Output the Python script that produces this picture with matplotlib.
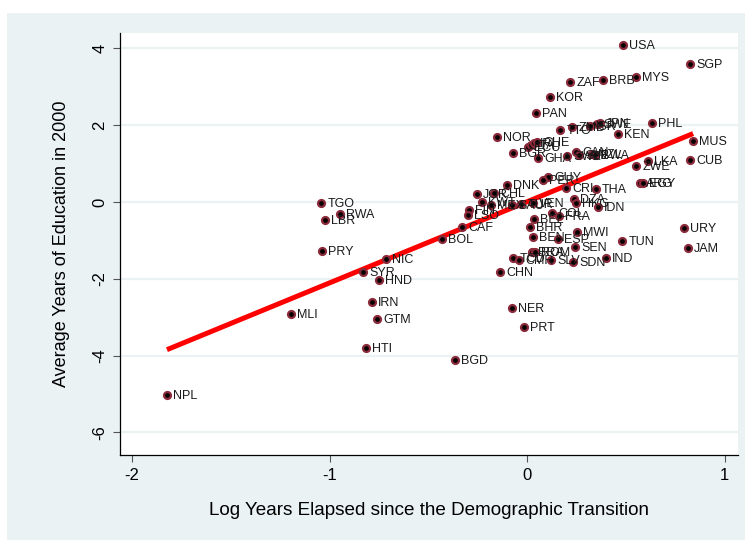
import numpy as np
import matplotlib
matplotlib.use("Agg")
import matplotlib.pyplot as plt
from matplotlib.patches import Rectangle

plt.rcParams['font.family'] = ['Liberation Sans', 'DejaVu Sans']

countries = ["USA", "SGP", "MYS", "BRB", "ZAF", "KOR", "PAN", "PHL", "MUS", "KEN",
             "TTO", "ZMB", "ISR", "SWE", "JPN", "NOR", "ECU", "ITA", "IRL", "CHE",
             "BGR", "GHA", "SWZ", "CAN", "SLE", "NZL", "BWA", "ZWE", "LKA", "CUB",
             "ARG", "EGY", "URY", "JAM", "TUN", "IND", "SDN", "SLV", "SEN", "MWI",
             "ESP", "BEN", "BHR", "BEL", "COL", "FRA", "BRA", "ROM", "TCD", "CMR",
             "CHN", "NER", "PRT", "BGD", "HTI", "GTM", "IRN", "MLI", "NPL", "HND",
             "SYR", "NIC", "BOL", "CAF", "PRY", "TGO", "RWA", "LBR", "FIN", "LSO",
             "JOR", "KWT", "CHL", "DNK", "MEX", "SAU", "TUR", "VEN", "GUY", "PER",
             "CRI", "THA", "DZA", "HKG", "IDN"]

log_years = [0.486, 0.825, 0.552, 0.385, 0.218, 0.116, 0.046, 0.633, 0.841, 0.461,
             0.167, 0.228, 0.319, 0.354, 0.370, -0.152, 0.005, 0.020, 0.035, 0.051,
             -0.071, 0.056, 0.203, 0.248, 0.263, 0.329, 0.344, 0.552, 0.613, 0.825,
             0.572, 0.587, 0.795, 0.815, 0.481, 0.400, 0.233, 0.122, 0.243, 0.253,
             0.157, 0.030, 0.015, 0.035, 0.127, 0.162, 0.025, 0.040, -0.071, -0.040,
             -0.137, -0.076, -0.015, -0.365, -0.815, -0.759, -0.785, -1.195, -1.823, -0.749,
             -0.830, -0.714, -0.430, -0.329, -1.038, -1.043, -0.947, -1.023, -0.294, -0.299,
             -0.253, -0.228, -0.167, -0.101, -0.182, -0.076, -0.030, 0.030, 0.106, 0.081,
             0.197, 0.349, 0.238, 0.248, 0.359]

education = [4.09, 3.59, 3.26, 3.18, 3.13, 2.73, 2.32, 2.06, 1.59, 1.77,
             1.88, 1.95, 1.98, 2.03, 2.06, 1.69, 1.43, 1.48, 1.54, 1.56,
             1.28, 1.15, 1.20, 1.30, 1.22, 1.25, 1.22, 0.94, 1.07, 1.09,
             0.49, 0.49, -0.68, -1.20, -1.02, -1.46, -1.56, -1.51, -1.17, -0.78,
             -0.96, -0.91, -0.65, -0.44, -0.29, -0.36, -1.30, -1.30, -1.46, -1.51,
             -1.82, -2.76, -3.26, -4.11, -3.80, -3.05, -2.60, -2.92, -5.03, -2.03,
             -1.82, -1.48, -0.96, -0.65, -1.28, -0.03, -0.31, -0.47, -0.21, -0.34,
             0.21, 0.00, 0.23, 0.44, -0.08, -0.08, -0.05, -0.03, 0.65, 0.57,
             0.36, 0.34, 0.08, -0.03, -0.13]

x_ticks = [-2, -1, 0, 1]
y_ticks = [-6, -4, -2, 0, 2, 4]

x = np.array(log_years)
y = np.array(education)

fig = plt.figure(figsize=(7.52, 5.5), dpi=100)
fig.patch.set_facecolor('white')
fig.patches.append(Rectangle((7/752, 1-540/550), (745-7)/752, (540-13)/550,
                             transform=fig.transFigure, facecolor='#EAF2F3',
                             edgecolor='none', zorder=-10))

ax = fig.add_axes([120/752, 1-455/550, (738-120)/752, (455-33)/550])
ax.set_facecolor('white')

for t in y_ticks:
    ax.axhline(t, color='#EAF2F3', lw=1.6, zorder=0)

slope, intercept = np.polyfit(x, y, 1)
xs = np.array([x.min(), x.max()])
ax.plot(xs, intercept + slope * xs, color='#FF0000', lw=3.6, zorder=3, solid_capstyle='butt')

ax.plot(x, y, 'o', markersize=5, markerfacecolor='black', markeredgecolor='#8B2A3A',
        markeredgewidth=1.6, zorder=4, linestyle='none')
for c, xi, yi in zip(countries, x, y):
    ax.annotate(c, (xi, yi), xytext=(4.5, -0.8), textcoords='offset points',
                fontsize=9, va='center', ha='left', color='#1a1a1a', zorder=5)

ax.set_xlim((120-527)/197.5, (738-527)/197.5)
ax.set_ylim((202-455)/38.4, (202-33)/38.4)
ax.set_xticks(x_ticks)
ax.set_yticks(y_ticks)
ax.set_xticklabels([str(v) for v in x_ticks], fontsize=12)
ax.set_yticklabels([str(v) for v in y_ticks], fontsize=12, rotation=90, va='center')
ax.tick_params(direction='out', length=5, color='#555555', width=0.8, pad=4)
for s in ['top', 'right']:
    ax.spines[s].set_visible(False)
for s in ['left', 'bottom']:
    ax.spines[s].set_color('black')
    ax.spines[s].set_linewidth(0.9)

ax.set_xlabel('Log Years Elapsed since the Demographic Transition', fontsize=13.6, labelpad=14)
ax.set_ylabel('Average Years of Education in 2000', fontsize=13, labelpad=16)

fig.savefig('out.png', dpi=100, facecolor=fig.get_facecolor())
